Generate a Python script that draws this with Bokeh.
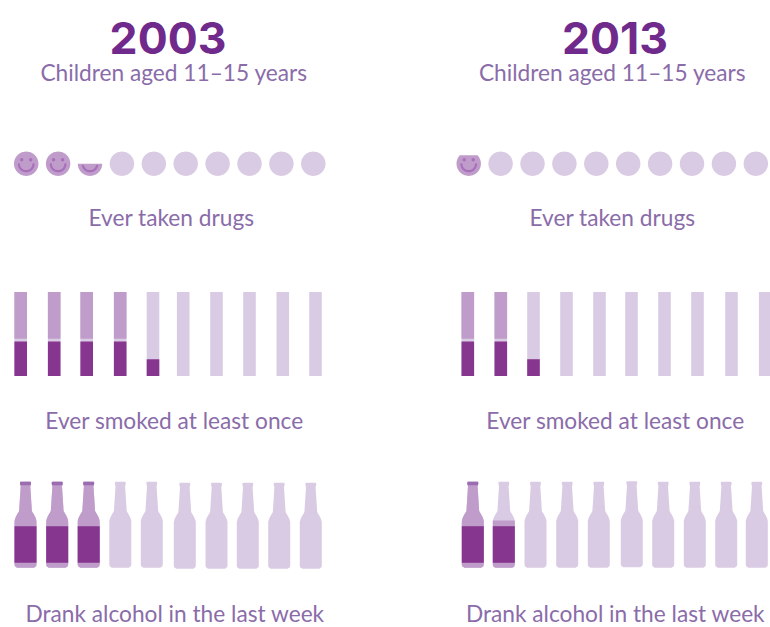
import numpy as np
from bokeh.embed import file_html
from bokeh.models import ColumnDataSource
from bokeh.plotting import figure
from bokeh.resources import INLINE
from bokeh.core.properties import value

# Children out of every ten in each survey year
years = ["2003", "2013"]
drugs = [2.5, 0.85]
smoked = [4.2, 2.2]
alcohol = [3.0, 1.55]

subtitle = "Children aged 11–15 years"
label_drugs = "Ever taken drugs"
label_smoked = "Ever smoked at least once"
label_alcohol = "Drank alcohol in the last week"

# Colours
BASE = "#dacbe4"
MID = "#bf9cca"
DARK = "#86368f"
TITLE = "#6f2a8b"
TEXT = "#8a6ca9"
FACE = "#a86fba"
CAP = "#9a6db0"

# Layout, in page pixels
FONT = "Lato"
TITLE_FONT = "Inter"
LABEL_SIZE = "22.7px"
title_x = [167.5, 614.5]
subtitle_x = [173.5, 612]
drugs_x = [171, 612]
smoked_x = [174, 615]
alcohol_x = [174.5, 615]
circle_x = [np.arange(10) * 31.9 + 25.7, np.arange(10) * 31.9 + 468.2]
bar_x = [[20.2, 53.7, 86.2, 119.7, 152.5, 182.7, 216, 249, 282.3, 315],
         [467.3, 500.3, 533, 566, 599, 631, 664, 697, 731, 764.7]]
bottle_x = [[25, 56.7, 88.2, 119.8, 151.3, 184.3, 216, 247.3, 278.7, 310.3],
            [472.3, 503.3, 535, 566.7, 598.3, 631.3, 662.7, 694.3, 725.7, 756.3]]
bottle_bottom = [[567.3, 567.3, 567.3, 567.3, 567.3, 568.3, 568.3, 568.3, 568.3, 568.3],
                 [567.3, 567.3, 567.3, 567.3, 567.3, 566.8, 567.3, 567.3, 567.3, 567.3]]
CIRCLE_Y, CIRCLE_R = 163.2, 12.2
BAR_TOP, BAR_BOTTOM, BAR_W = 291.5, 375.5, 12.6
FILTER_TOP, GAP_TOP = 341, 338.3
BOTTLE_H = 86
LABEL_TOP, LABEL_BOTTOM = 525.7, 562.3

# Bottle outline: height above the base against half width
bottle_h = [0, 0.6, 1.5, 3, 46.7, 49, 51.7, 56.7, 81.7, 84, 85.4, 86]
bottle_w = [8.5, 9.8, 10.6, 11, 11, 10.5, 9.3, 6.4, 4.8, 5.5, 5.5, 5.0]


def outline(cx, bottom, heights, widths, upto, start=0.0):
    """Polygon of a symmetric shape between two heights above its base."""
    h = np.linspace(start, upto, 60)
    w = np.interp(h, heights, widths)
    xs = np.concatenate([cx - w, (cx + w)[::-1]])
    ys = np.concatenate([bottom - h, (bottom - h)[::-1]])
    return xs.tolist(), ys.tolist()


p = figure(width=770, height=627, x_range=(0, 770), y_range=(627, 0),
           output_backend="svg", toolbar_location=None, min_border=0,
           background_fill_color="white", border_fill_color="white")
p.axis.visible = False
p.grid.visible = False
p.outline_line_color = None

patch_xs, patch_ys, patch_col = [], [], []


def add_patch(poly, colour):
    patch_xs.append(poly[0])
    patch_ys.append(poly[1])
    patch_col.append(colour)


circle_h = np.linspace(0, 2 * CIRCLE_R, 61)
circle_w = np.sqrt(np.clip(CIRCLE_R ** 2 - (circle_h - CIRCLE_R) ** 2, 0, None))
mouth_xs, mouth_ys, eye_x, eye_y = [], [], [], []

for c in range(2):
    # Smiley row: the fraction left over is a cut face with no pale disc behind it
    for i, cx in enumerate(circle_x[c]):
        share = np.clip(drugs[c] - i, 0, 1)
        bottom = CIRCLE_Y + CIRCLE_R
        if share == 0:
            add_patch(outline(cx, bottom, circle_h, circle_w, 2 * CIRCLE_R), BASE)
            continue
        level = 2 * CIRCLE_R * share
        add_patch(outline(cx, bottom, circle_h, circle_w, level), MID)
        cut_y = bottom - level
        ang = np.linspace(0.05, np.pi - 0.05, 30)
        mx = cx + 7.3 * np.cos(ang)
        my = CIRCLE_Y + 0.2 + 7.3 * np.sin(ang)
        keep = my >= cut_y + 1.5
        if keep.any():
            mouth_xs.append(mx[keep].tolist())
            mouth_ys.append(my[keep].tolist())
        for dx in (-4.5, 4.5):
            if CIRCLE_Y - 4 > cut_y:
                eye_x.append(cx + dx)
                eye_y.append(CIRCLE_Y - 4)

    # Cigarette row: a dark filter in the lower part, paler paper above
    bar_h = BAR_BOTTOM - BAR_TOP
    for i, cx in enumerate(bar_x[c]):
        share = np.clip(smoked[c] - i, 0, 1)
        left, right = cx - BAR_W / 2, cx + BAR_W / 2
        box = lambda t, b: ([left, right, right, left], [t, t, b, b])
        add_patch(box(BAR_TOP, BAR_BOTTOM), BASE)
        if share == 0:
            continue
        level = BAR_BOTTOM - bar_h * share
        if level < GAP_TOP:
            add_patch(box(level, GAP_TOP), MID)
        add_patch(box(max(level, FILTER_TOP), BAR_BOTTOM), DARK)

    # Bottle row: the liquid level is shown with a darker label band over it
    for i, cx in enumerate(bottle_x[c]):
        share = np.clip(alcohol[c] - i, 0, 1)
        bottom = bottle_bottom[c][i]
        add_patch(outline(cx, bottom, bottle_h, bottle_w, BOTTLE_H), BASE)
        if share == 0:
            continue
        add_patch(outline(cx, bottom, bottle_h, bottle_w, BOTTLE_H * share), MID)
        if share == 1:
            add_patch(outline(cx, bottom, bottle_h, bottle_w, BOTTLE_H, BOTTLE_H - 3.5), CAP)
        add_patch(outline(cx, bottom, bottle_h, bottle_w,
                          bottom - LABEL_TOP, bottom - LABEL_BOTTOM), DARK)

p.patches("xs", "ys", fill_color="col", line_color=None,
          source=ColumnDataSource(dict(xs=patch_xs, ys=patch_ys, col=patch_col)))
p.multi_line(mouth_xs, mouth_ys, line_color=FACE, line_width=2.2, line_cap="round")
p.scatter(eye_x, eye_y, size=3.4, marker="circle", fill_color=FACE, line_color=None)


def label(x, y, text, size, colour=TEXT, style="normal", font=FONT):
    p.text([x], [y], text=[text], text_font=value(font), text_font_size=size,
           text_color=colour, text_align="center", text_baseline="middle",
           text_font_style=style)


for c, year in enumerate(years):
    label(title_x[c], 37, year, "44.5px", TITLE, "bold", TITLE_FONT)
    label(subtitle_x[c], 72, subtitle, LABEL_SIZE)
    label(drugs_x[c], 217, label_drugs, LABEL_SIZE)
    label(smoked_x[c], 420, label_smoked, LABEL_SIZE)
    label(alcohol_x[c], 613, label_alcohol, LABEL_SIZE)

open("out.html", "w").write(file_html(p, INLINE))
